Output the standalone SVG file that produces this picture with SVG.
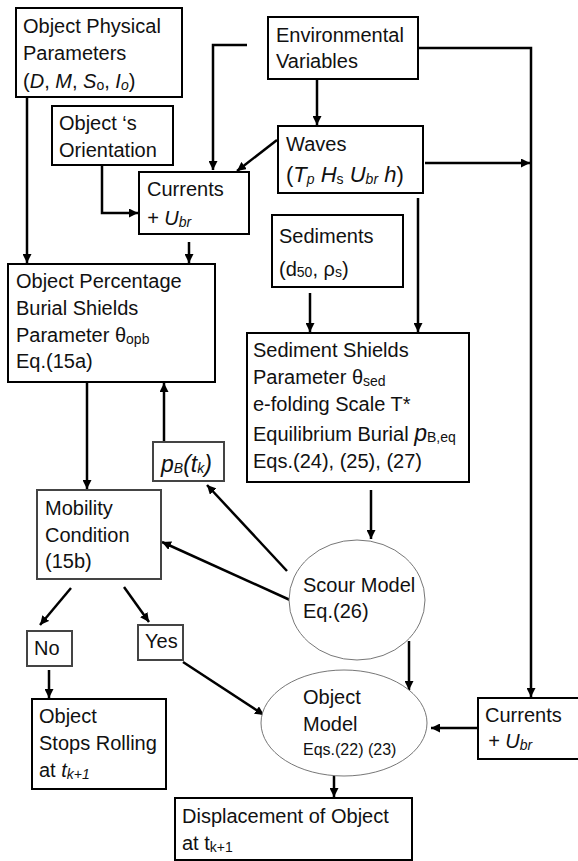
<svg xmlns="http://www.w3.org/2000/svg" width="578" height="861" viewBox="0 0 578 861">
<defs>
<marker id="arr" viewBox="0 0 10 10" refX="10" refY="5" markerWidth="9" markerHeight="9" markerUnits="userSpaceOnUse" orient="auto">
<path d="M0,0 L10,5 L0,10 z" fill="#000"/>
</marker>
<style>
text{font-family:"Liberation Sans",Arial,sans-serif;font-size:20px;fill:#111}
.box{fill:#fff;stroke:#000;stroke-width:2}
.gbox{fill:#fff;stroke:#444;stroke-width:2}
.ell{fill:#fff;stroke:#777;stroke-width:1}
.c{fill:none;stroke:#000;stroke-width:2.5;marker-end:url(#arr)}
.sub{font-size:14px}
.i{font-style:italic}
</style>
</defs>
<rect width="578" height="861" fill="#fff"/>
<g id="connectors">
<path class="c" d="M247,45 H213 V170"/>
<path class="c" d="M317,79 V125"/>
<path class="c" d="M418,48 H531 V697"/>
<path class="c" d="M277,140 L237,171"/>
<path class="c" d="M425,163 H530"/>
<path class="c" d="M418,198 V332"/>
<path class="c" d="M102,165 V213 H138"/>
<path class="c" d="M27,98 V263"/>
<path class="c" d="M189,242 V263"/>
<path class="c" d="M310,293 V332"/>
<path class="c" d="M87,382 V489"/>
<path class="c" d="M164,442 V383"/>
<path class="c" d="M371,490 V539"/>
<path class="c" d="M287,571 L207,485"/>
<path class="c" d="M290,600 L162,542"/>
<path class="c" d="M71,588 L40,625"/>
<path class="c" d="M124,587 L149,622"/>
<path class="c" d="M49,670 V698"/>
<path class="c" d="M183,662 L264,715"/>
<path class="c" d="M409,641 V690"/>
<path class="c" d="M478,728 H431"/>
<path class="c" d="M334,776 V797"/>
</g>
<g id="objPhys">
<rect class="box" x="16" y="8" width="166" height="89"/>
<text x="23" y="33">Object Physical</text>
<text x="23" y="60">Parameters</text>
<text x="23" y="88">(<tspan class="i">D</tspan>, <tspan class="i">M</tspan>, <tspan class="i">S</tspan><tspan class="sub" dy="2">o</tspan><tspan dy="-2">, </tspan><tspan class="i">I</tspan><tspan class="sub i" dy="2">o</tspan><tspan dy="-2">)</tspan></text>
</g>
<g id="env">
<rect class="box" x="268" y="17" width="150" height="62"/>
<text x="276" y="42">Environmental</text>
<text x="276" y="68">Variables</text>
</g>
<g id="orient">
<rect class="box" x="52" y="106" width="121" height="59"/>
<text x="59" y="130">Object ‘s</text>
<text x="59" y="157">Orientation</text>
</g>
<g id="waves">
<rect class="box" x="278" y="126" width="145" height="67"/>
<text x="286" y="151">Waves</text>
<text x="286" y="182" style="font-size:22px">(<tspan class="i">T</tspan><tspan class="sub i" dy="2">p</tspan><tspan dy="-2"> </tspan><tspan class="i">H</tspan><tspan class="sub" dy="2">s</tspan><tspan dy="-2"> </tspan><tspan class="i">U</tspan><tspan class="sub i" dy="2">br</tspan><tspan dy="-2"> </tspan><tspan class="i">h</tspan>)</text>
</g>
<g id="currents1">
<rect class="box" x="139" y="172" width="110" height="62"/>
<text x="147" y="196">Currents</text>
<text x="147" y="225"><tspan class="i">+ U</tspan><tspan class="sub i" dy="2">br</tspan></text>
</g>
<g id="sediments">
<rect class="box" x="272" y="215" width="131" height="72"/>
<text x="279" y="243">Sediments</text>
<text x="279" y="276">(d<tspan class="sub" dy="1">50</tspan><tspan dy="-1">, ρ</tspan><tspan class="sub" dy="1">s</tspan><tspan dy="-1">)</tspan></text>
</g>
<g id="objPct">
<rect class="box" x="8" y="264" width="207" height="118"/>
<text x="16" y="288">Object Percentage</text>
<text x="16" y="315">Burial Shields</text>
<text x="16" y="342">Parameter θ<tspan class="sub" dy="2">opb</tspan></text>
<text x="16" y="368">Eq.(15a)</text>
</g>
<g id="shields">
<rect class="box" x="247" y="333" width="222" height="149"/>
<text x="253" y="357">Sediment Shields</text>
<text x="253" y="384">Parameter θ<tspan class="sub" dy="2">sed</tspan></text>
<text x="253" y="411">e-folding Scale T*</text>
<text x="253" y="441">Equilibrium Burial <tspan class="i" style="font-size:23px">p</tspan><tspan class="sub" dy="1">B,eq</tspan></text>
<text x="253" y="468">Eqs.(24), (25), (27)</text>
</g>
<g id="pB">
<rect class="gbox" x="153" y="442" width="71" height="39"/>
<text x="161" y="472" class="i" style="font-size:23px">p<tspan class="sub" dy="1">B</tspan><tspan dy="-1">(t</tspan><tspan class="sub" dy="1">k</tspan><tspan dy="-1">)</tspan></text>
</g>
<g id="mobility">
<rect class="gbox" x="37" y="490" width="124" height="89"/>
<text x="45" y="515">Mobility</text>
<text x="45" y="542">Condition</text>
<text x="45" y="568">(15b)</text>
</g>
<g id="scour">
<ellipse class="ell" cx="357" cy="600" rx="68" ry="60"/>
<text x="303" y="592">Scour Model</text>
<text x="303" y="618">Eq.(26)</text>
</g>
<g id="no">
<rect class="gbox" x="27" y="631" width="45" height="35"/>
<text x="34" y="655">No</text>
</g>
<g id="yes">
<rect class="gbox" x="138" y="625" width="45" height="35"/>
<text x="145" y="648">Yes</text>
</g>
<g id="objModel">
<ellipse class="ell" cx="344" cy="723" rx="83" ry="53"/>
<text x="303" y="704">Object</text>
<text x="303" y="731">Model</text>
<text x="303" y="755" style="font-size:16px">Eqs.(22) (23)</text>
</g>
<g id="currents2">
<rect class="box" x="478" y="698" width="101" height="61"/>
<text x="485" y="722">Currents</text>
<text x="488" y="748"><tspan class="i">+ U</tspan><tspan class="sub i" dy="2">br</tspan></text>
</g>
<g id="stops">
<rect class="box" x="32" y="699" width="134" height="90"/>
<text x="39" y="723">Object</text>
<text x="39" y="750">Stops Rolling</text>
<text x="39" y="777">at <tspan class="i">t</tspan><tspan class="sub i" dy="2">k+1</tspan></text>
</g>
<g id="displacement">
<rect class="box" x="175" y="798" width="237" height="62"/>
<text x="182" y="823">Displacement of Object</text>
<text x="182" y="850">at t<tspan class="sub" dy="2">k+1</tspan></text>
</g>
</svg>
